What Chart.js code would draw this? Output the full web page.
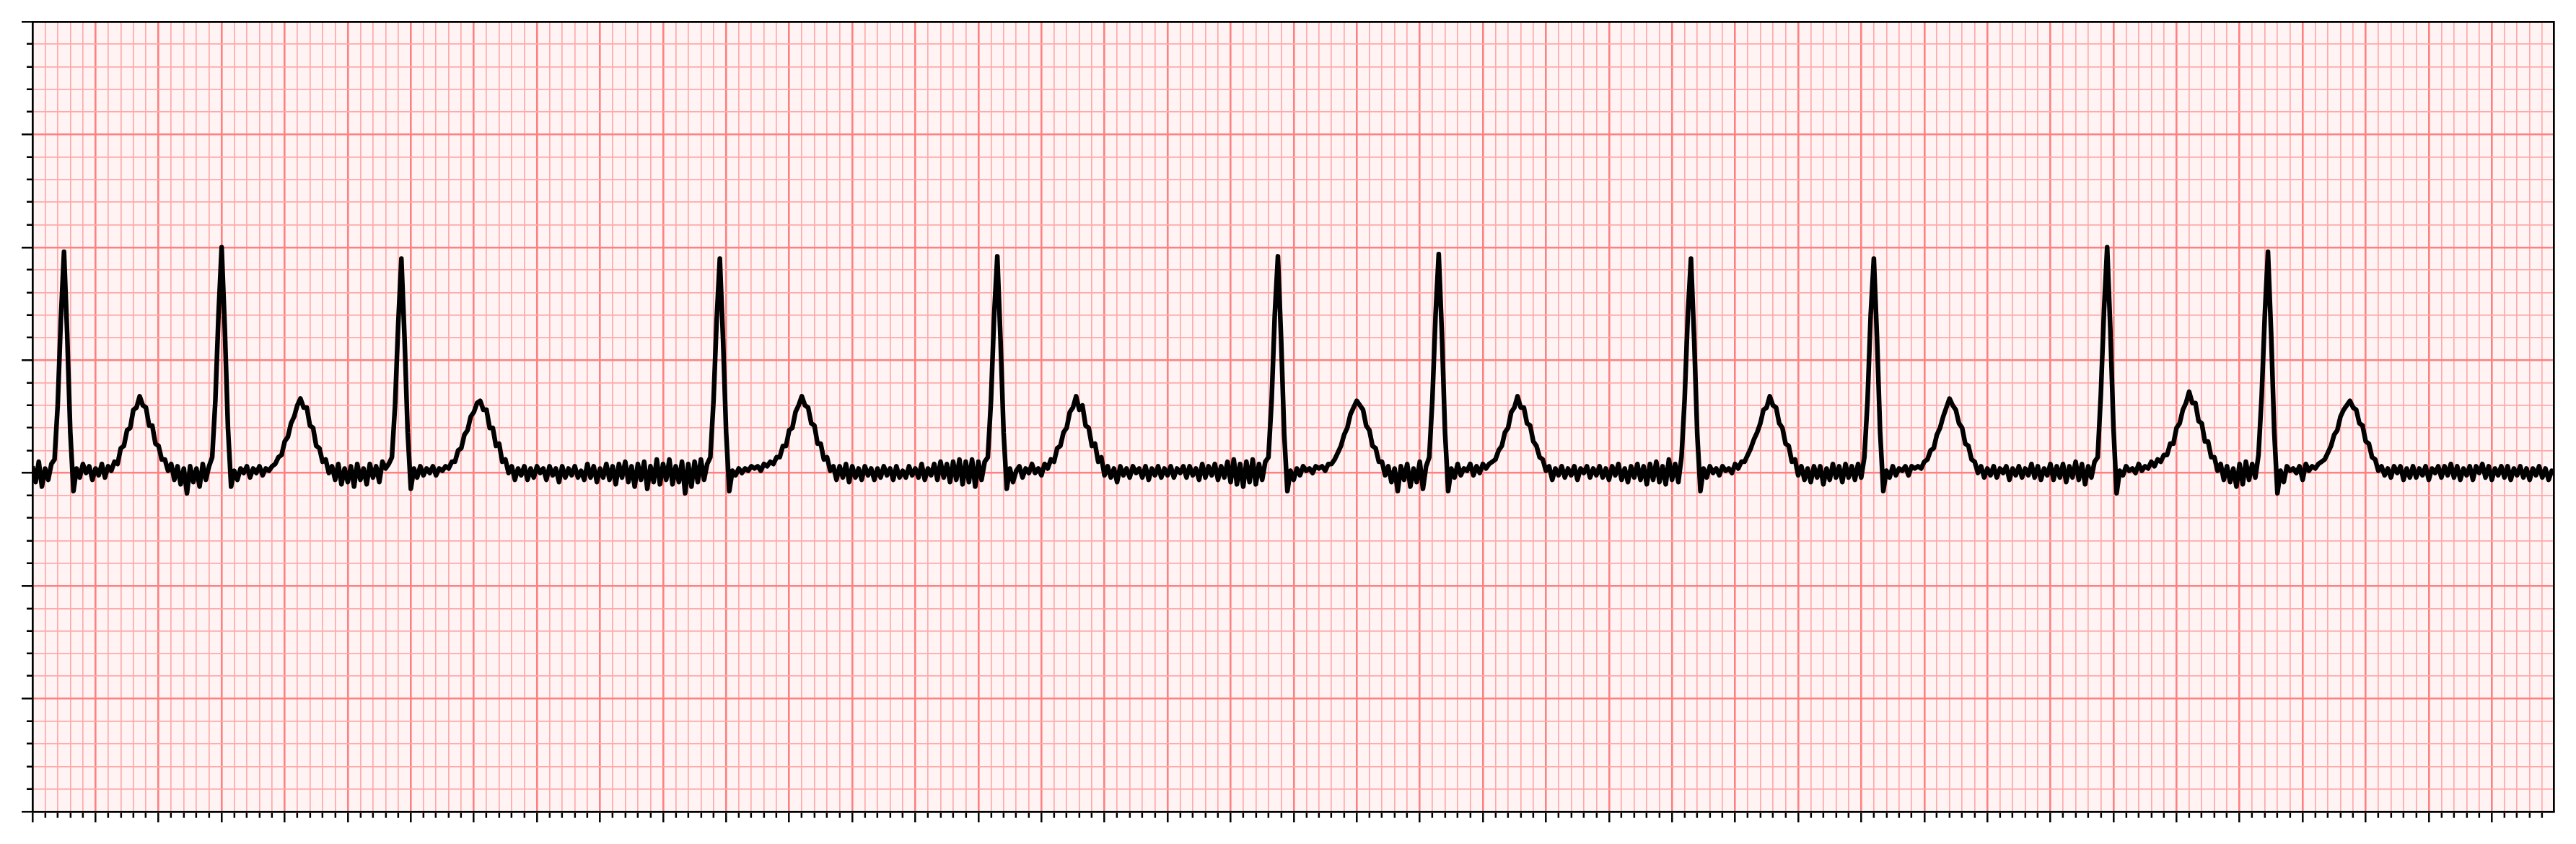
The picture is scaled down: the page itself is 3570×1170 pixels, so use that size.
<!DOCTYPE html>
<html>
<head>
<meta charset="utf-8">
<title>ECG strip</title>
<script src="https://cdn.jsdelivr.net/npm/chart.js@4.4.1/dist/chart.umd.min.js"></script>
<style>
  html, body { margin: 0; padding: 0; background: #fff; }
  #wrap { width: 3570px; height: 1170px; }
</style>
</head>
<body>
<div id="wrap"><canvas id="ecg" width="3570" height="1170"></canvas></div>
<script>
// ── Trace samples (mV), one array per second, 0.01 s apart ──
const sampleStep = 0.01;

const voltsSec0 = [
  0.03, -0.04, 0.05, -0.06, 0.02, -0.03, 0.04, 0.06, 0.30, 0.68,
  0.98, 0.62, 0.18, -0.08, 0.02, -0.02, 0.04, 0.00, 0.03, -0.03,
  0.02, -0.01, 0.04, -0.02, 0.03, 0.01, 0.05, 0.04, 0.11, 0.12,
  0.19, 0.20, 0.28, 0.29, 0.34, 0.30, 0.29, 0.21, 0.21, 0.13,
  0.12, 0.06, 0.06, 0.01, 0.04, -0.03, 0.03, -0.05, 0.02, -0.09,
  0.03, -0.04, 0.02, -0.06, 0.04, -0.03, 0.03, 0.07, 0.32, 0.70,
  1.00, 0.64, 0.20, -0.06, 0.01, -0.03, 0.02, 0.00, 0.03, -0.02,
  0.02, 0.00, 0.03, -0.01, 0.02, 0.01, 0.03, 0.04, 0.07, 0.08,
  0.14, 0.16, 0.22, 0.25, 0.30, 0.33, 0.29, 0.29, 0.21, 0.20,
  0.12, 0.11, 0.05, 0.06, 0.00, 0.03, -0.03, 0.04, -0.05, 0.02,
];
const voltsSec1 = [
  -0.04, 0.03, -0.06, 0.04, -0.03, 0.02, -0.05, 0.04, -0.02, 0.03,
  -0.04, 0.05, 0.02, 0.04, 0.07, 0.30, 0.66, 0.95, 0.60, 0.18,
  -0.07, 0.02, -0.02, 0.03, -0.01, 0.02, 0.00, 0.03, -0.01, 0.02,
  0.01, 0.03, 0.02, 0.05, 0.05, 0.10, 0.11, 0.17, 0.19, 0.25,
  0.27, 0.31, 0.32, 0.28, 0.28, 0.20, 0.20, 0.12, 0.13, 0.05,
  0.06, 0.00, 0.03, -0.03, 0.02, -0.01, 0.03, -0.03, 0.02, -0.02,
  0.03, 0.00, 0.02, -0.03, 0.03, -0.01, 0.02, -0.04, 0.03, -0.02,
  0.02, -0.01, 0.03, -0.02, 0.01, -0.03, 0.04, -0.02, 0.03, -0.04,
  0.02, -0.02, 0.04, -0.03, 0.03, -0.05, 0.04, -0.02, 0.05, -0.04,
  0.03, -0.06, 0.04, -0.03, 0.05, -0.07, 0.03, -0.04, 0.06, -0.05,
];
const voltsSec2 = [
  0.04, -0.03, 0.06, -0.05, 0.03, -0.04, 0.05, -0.09, 0.04, -0.06,
  0.05, -0.04, 0.06, -0.03, 0.04, 0.07, 0.32, 0.68, 0.95, 0.60,
  0.18, -0.08, 0.01, -0.01, 0.02, 0.00, 0.02, 0.01, 0.03, 0.02,
  0.03, 0.01, 0.04, 0.03, 0.05, 0.04, 0.07, 0.07, 0.12, 0.12,
  0.19, 0.20, 0.27, 0.30, 0.34, 0.30, 0.29, 0.22, 0.21, 0.13,
  0.13, 0.06, 0.07, 0.01, 0.03, -0.03, 0.03, -0.02, 0.04, -0.04,
  0.03, -0.02, 0.02, -0.03, 0.03, -0.01, 0.02, -0.03, 0.02, -0.02,
  0.03, -0.01, 0.02, -0.03, 0.03, -0.02, 0.01, -0.02, 0.03, -0.01,
  0.02, -0.02, 0.04, -0.03, 0.02, -0.01, 0.04, -0.03, 0.05, -0.02,
  0.04, -0.04, 0.05, -0.03, 0.06, -0.05, 0.05, -0.04, 0.06, -0.06,
];
const voltsSec3 = [
  0.05, -0.03, 0.05, 0.07, 0.32, 0.70, 0.96, 0.60, 0.18, -0.07,
  0.02, -0.04, 0.01, 0.03, -0.02, 0.02, 0.00, 0.04, 0.00, 0.02,
  -0.01, 0.04, 0.02, 0.06, 0.05, 0.11, 0.12, 0.18, 0.20, 0.27,
  0.29, 0.34, 0.28, 0.30, 0.21, 0.20, 0.12, 0.13, 0.05, 0.07,
  -0.01, 0.03, -0.02, 0.02, -0.04, 0.03, -0.01, 0.02, -0.02, 0.03,
  0.00, 0.02, -0.02, 0.03, -0.03, 0.02, -0.01, 0.03, -0.02, 0.02,
  -0.01, 0.03, -0.02, 0.02, 0.00, 0.03, -0.02, 0.03, -0.01, 0.02,
  -0.03, 0.04, -0.02, 0.03, -0.01, 0.04, -0.03, 0.03, -0.02, 0.05,
  -0.04, 0.06, -0.05, 0.04, -0.06, 0.05, -0.04, 0.06, -0.05, 0.04,
  -0.03, 0.05, 0.07, 0.32, 0.70, 0.96, 0.60, 0.17, -0.08, 0.01,
];
const voltsSec4 = [
  -0.03, 0.02, -0.01, 0.03, 0.01, 0.02, 0.00, 0.03, 0.02, 0.03,
  0.01, 0.04, 0.04, 0.06, 0.09, 0.12, 0.17, 0.20, 0.26, 0.29,
  0.32, 0.30, 0.28, 0.21, 0.19, 0.12, 0.11, 0.05, 0.05, -0.01,
  0.03, -0.04, 0.02, -0.08, 0.03, -0.03, 0.04, -0.06, 0.02, -0.04,
  0.05, -0.07, 0.03, 0.07, 0.33, 0.70, 0.97, 0.62, 0.18, -0.08,
  0.02, -0.02, 0.04, -0.01, 0.02, 0.01, 0.04, -0.01, 0.03, 0.00,
  0.04, 0.02, 0.04, 0.05, 0.06, 0.10, 0.12, 0.18, 0.20, 0.27,
  0.29, 0.34, 0.29, 0.29, 0.22, 0.21, 0.14, 0.12, 0.07, 0.06,
  0.01, 0.03, -0.03, 0.02, -0.01, 0.03, -0.02, 0.02, -0.01, 0.03,
  -0.03, 0.02, 0.00, 0.03, -0.02, 0.02, -0.01, 0.03, -0.02, 0.02,
];
const voltsSec5 = [
  -0.03, 0.03, -0.01, 0.04, -0.03, 0.02, -0.04, 0.03, -0.02, 0.04,
  -0.03, 0.03, -0.05, 0.04, -0.03, 0.05, -0.04, 0.03, -0.05, 0.06,
  -0.03, 0.04, -0.04, 0.07, 0.33, 0.70, 0.95, 0.60, 0.17, -0.08,
  0.02, -0.02, 0.03, 0.00, 0.02, -0.01, 0.03, 0.01, 0.02, 0.00,
  0.04, 0.02, 0.05, 0.05, 0.08, 0.11, 0.15, 0.18, 0.22, 0.28,
  0.29, 0.34, 0.30, 0.29, 0.22, 0.20, 0.13, 0.12, 0.05, 0.06,
  -0.01, 0.03, -0.03, 0.02, -0.04, 0.03, -0.02, 0.03, -0.05, 0.02,
  -0.03, 0.04, -0.02, 0.03, -0.04, 0.04, -0.02, 0.03, -0.03, 0.04,
  -0.02, 0.07, 0.32, 0.70, 0.95, 0.60, 0.18, -0.08, 0.01, -0.02,
  0.03, -0.01, 0.02, 0.01, 0.03, -0.01, 0.03, 0.02, 0.03, 0.02,
];
const voltsSec6 = [
  0.05, 0.06, 0.10, 0.11, 0.17, 0.20, 0.25, 0.29, 0.33, 0.30,
  0.28, 0.22, 0.20, 0.13, 0.12, 0.06, 0.05, 0.00, 0.03, -0.02,
  0.02, -0.01, 0.03, -0.02, 0.02, 0.00, 0.03, -0.03, 0.02, -0.01,
  0.03, -0.02, 0.02, -0.01, 0.04, -0.02, 0.03, -0.03, 0.02, -0.01,
  0.04, -0.03, 0.03, -0.02, 0.04, -0.04, 0.03, -0.02, 0.05, -0.03,
  0.04, -0.05, 0.03, -0.02, 0.05, 0.07, 0.35, 0.72, 1.00, 0.64,
  0.20, -0.09, 0.01, -0.01, 0.03, 0.01, 0.02, 0.00, 0.04, 0.01,
  0.03, 0.02, 0.05, 0.03, 0.06, 0.05, 0.08, 0.08, 0.13, 0.13,
  0.20, 0.22, 0.28, 0.31, 0.36, 0.31, 0.31, 0.23, 0.22, 0.14,
  0.14, 0.07, 0.07, 0.01, 0.04, -0.03, 0.03, -0.04, 0.02, -0.06,
];
const voltsSec7 = [
  0.04, -0.05, 0.05, -0.03, 0.04, -0.02, 0.08, 0.34, 0.70, 0.98,
  0.62, 0.18, -0.09, 0.01, -0.04, 0.03, 0.01, 0.02, 0.00, 0.03,
  -0.03, 0.04, 0.01, 0.03, 0.02, 0.04, 0.05, 0.06, 0.09, 0.12,
  0.17, 0.19, 0.25, 0.28, 0.30, 0.32, 0.29, 0.28, 0.22, 0.21,
  0.14, 0.13, 0.07, 0.06, 0.01, 0.03, -0.01, 0.02, -0.02, 0.03,
  0.00, 0.03, -0.03, 0.02, -0.02, 0.03, -0.02, 0.02, -0.01, 0.03,
  -0.03, 0.02, 0.00, 0.03, -0.02, 0.03, -0.01, 0.04, -0.02, 0.03,
  -0.03, 0.02, -0.01, 0.03, -0.03, 0.03, 0.00, 0.04, -0.02, 0.03,
  -0.03, 0.02, -0.01, 0.03, -0.02, 0.03, -0.03, 0.02, -0.01, 0.03,
  -0.02, 0.02, -0.03, 0.02, -0.01, 0.03, -0.02, 0.02, -0.03, 0.01,
  0.00,
];

// ── Paper grid: 0.04 s / 0.1 mV small boxes, 0.2 s / 0.5 mV big boxes ──
const xRange = [0, 7.996];
const yRange = [-1.5, 2.0];
const xSteps = { minor: 0.04, major: 0.2 };
const ySteps = { minor: 0.1, major: 0.5 };

const PAPER = '#fff3f3';
const GRID_MAJOR = '#ff8080';
const GRID_MINOR = '#ffaaaa';
const INK = '#000000';

const seconds = [voltsSec0, voltsSec1, voltsSec2, voltsSec3, voltsSec4, voltsSec5, voltsSec6, voltsSec7];
const points = [];
seconds.forEach((arr, sec) => {
  arr.forEach((v, i) => {
    points.push({ x: Math.round((sec + i * sampleStep) * 1000) / 1000, y: v });
  });
});

const onStep = (v, step) => Math.abs(v / step - Math.round(v / step)) < 1e-6;

// grid lines: major / minor colours, none on the frame itself
function gridStyle(steps, range) {
  return {
    color: (ctx) => {
      const v = ctx.tick ? ctx.tick.value : NaN;
      if (Math.abs(v - range[0]) < 1e-9 || Math.abs(v - range[1]) < 1e-9) return 'rgba(0,0,0,0)';
      return onStep(v, steps.major) ? GRID_MAJOR : GRID_MINOR;
    },
    lineWidth: (ctx) => (ctx.tick && onStep(ctx.tick.value, steps.major) ? 2.6 : 1.7),
    tickColor: INK,
    tickWidth: 2.5,
    tickLength: 15,
  };
}

// Fill the plotting area with the paper colour
const paperBackground = {
  id: 'paperBackground',
  beforeDraw(chart) {
    const { ctx, chartArea: a } = chart;
    ctx.save();
    ctx.fillStyle = PAPER;
    ctx.fillRect(a.left, a.top, a.right - a.left, a.bottom - a.top);
    ctx.restore();
  },
};

const frame = { display: true, color: INK, width: 2.7 };

new Chart(document.getElementById('ecg'), {
  type: 'line',
  data: {
    datasets: [{
      data: points,
      parsing: false,
      borderColor: INK,
      borderWidth: 6.5,
      borderJoinStyle: 'round',
      pointRadius: 0,
      tension: 0,
      fill: false,
      clip: 0,
    }],
  },
  options: {
    responsive: false,
    animation: false,
    events: [],
    layout: { padding: { left: 30, top: 30, right: 31, bottom: 30 } },
    scales: {
      x: {
        type: 'linear',
        position: 'bottom',
        min: xRange[0],
        max: xRange[1],
        bounds: 'data',
        ticks: { display: false, stepSize: xSteps.minor, includeBounds: false },
        grid: {
          ...gridStyle(xSteps, xRange),
          // minor marks: only the first 7 px below the axis
          tickBorderDash: (ctx) => (ctx.tick && onStep(ctx.tick.value, xSteps.major) ? [] : [7, 100]),
        },
        border: frame,
      },
      y: {
        type: 'linear',
        position: 'left',
        min: yRange[0],
        max: yRange[1],
        ticks: { display: false, stepSize: ySteps.minor },
        grid: {
          ...gridStyle(ySteps, yRange),
          // minor marks: skip the outer part, keep the 7 px next to the axis
          tickBorderDash: (ctx) => (ctx.tick && onStep(ctx.tick.value, ySteps.major) ? [] : [0, 7, 10, 100]),
        },
        border: frame,
      },
      xTop: {
        type: 'linear',
        position: 'top',
        min: xRange[0],
        max: xRange[1],
        ticks: { display: false },
        grid: { display: false, drawTicks: false },
        border: frame,
      },
      yRight: {
        type: 'linear',
        position: 'right',
        min: yRange[0],
        max: yRange[1],
        ticks: { display: false },
        grid: { display: false, drawTicks: false },
        border: frame,
      },
    },
    plugins: {
      legend: { display: false },
      tooltip: { enabled: false },
    },
  },
  plugins: [paperBackground],
});
</script>
</body>
</html>
